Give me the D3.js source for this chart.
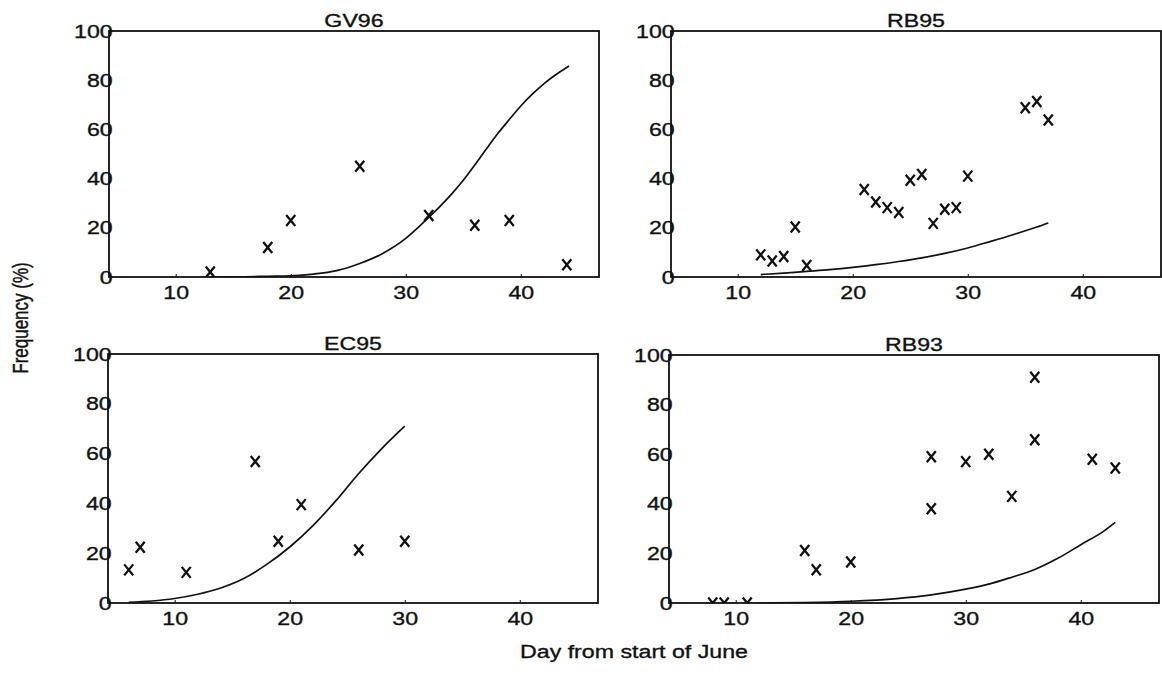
<!DOCTYPE html>
<html>
<head>
<meta charset="utf-8">
<script src="https://cdn.jsdelivr.net/npm/d3@7"></script>
<style>
  html, body { margin: 0; padding: 0; background: #fff; }
  svg { display: block; font-family: "Liberation Sans", Arial, sans-serif; }
</style>
</head>
<body>
<div id="chart"></div>
<script>
// observations (day, frequency %)
const gv96Days = [13, 18, 20, 26, 32, 36, 39, 44];
const gv96Freq = [2, 12, 23, 45, 25, 21, 23, 5];
const gv96CurveDays = [13, 16, 18, 20, 22, 24, 26, 28, 30, 31, 32, 33, 34, 35, 36, 37, 38, 39, 40, 41, 42, 43, 44.2];
const gv96CurveFreq = [0, 0.1, 0.3, 0.5, 1.2, 2.6, 5.5, 9.6, 15.7, 19.8, 24.2, 28.8, 33.8, 39.3, 45.5, 52, 58.3, 64, 69.5, 74.3, 78.5, 82.1, 85.8];

const rb95Days = [12, 13, 14, 15, 16, 21, 22, 23, 24, 25, 26, 27, 28, 29, 30, 35, 36, 37];
const rb95Freq = [9, 6.5, 8.3, 20.3, 4.7, 35.6, 30.5, 28.2, 26.2, 39.3, 41.7, 21.8, 27.5, 28.2, 41, 68.8, 71.3, 63.8];
const rb95CurveDays = [12, 14, 16, 18, 20, 22, 24, 26, 28, 30, 32, 34, 36, 37];
const rb95CurveFreq = [1, 1.6, 2.3, 3, 3.9, 5, 6.3, 7.8, 9.6, 11.8, 14.5, 17.3, 20.3, 22];

const ec95Days = [6, 7, 11, 17, 19, 21, 26, 30];
const ec95Freq = [13.3, 22.4, 12.3, 56.8, 24.8, 39.5, 21.3, 24.8];
const ec95CurveDays = [6, 8, 10, 12, 14, 16, 18, 20, 22, 24, 26, 28, 30];
const ec95CurveFreq = [0.3, 0.8, 1.8, 3.5, 6, 9.8, 15.5, 22.5, 31, 41, 52, 62, 71];

const rb93Days = [8, 9, 11, 16, 17, 20, 27, 27, 30, 32, 34, 36, 36, 41, 43];
const rb93Freq = [0, 0, 0, 21.2, 13.4, 16.5, 59, 38, 57, 60, 43, 91, 65.8, 58, 54.4];
const rb93CurveDays = [12, 16, 20, 24, 27, 30, 32, 34, 36, 38, 40, 42, 43];
const rb93CurveFreq = [0, 0.2, 0.7, 1.8, 3.3, 5.6, 7.6, 10.4, 13.5, 18, 23.5, 29, 32.5];

const xTicks = [10, 20, 30, 40];
const yTicks = [0, 20, 40, 60, 80, 100];

const panels = [
  { title: "GV96", days: gv96Days, freq: gv96Freq, cDays: gv96CurveDays, cFreq: gv96CurveFreq, left: 109, top: 31, bottom: 277 },
  { title: "RB95", days: rb95Days, freq: rb95Freq, cDays: rb95CurveDays, cFreq: rb95CurveFreq, left: 671, top: 31, bottom: 277 },
  { title: "EC95", days: ec95Days, freq: ec95Freq, cDays: ec95CurveDays, cFreq: ec95CurveFreq, left: 108, top: 354, bottom: 603 },
  { title: "RB93", days: rb93Days, freq: rb93Freq, cDays: rb93CurveDays, cFreq: rb93CurveFreq, left: 669, top: 355, bottom: 603 }
];

const W = 1162, H = 674;
const panelW = 490;
const sx = 1.22;      // the scan is stretched horizontally
const fs = 19;
const ink = "#111";

const svg = d3.select("#chart").append("svg")
  .attr("width", W).attr("height", H);

// scanned print looks a little heavy
const inkText = sel => sel.attr("fill", ink).attr("stroke", ink).attr("stroke-width", 0.35)
  .style("font-size", fs + "px");

panels.forEach((p, i) => {
  const x = d3.scaleLinear().domain([4.2, 46.8]).range([0, panelW]);
  const y = d3.scaleLinear().domain([0, 100]).range([p.bottom - p.top, 0]);
  const h = p.bottom - p.top;

  const g = svg.append("g").attr("transform", `translate(${p.left},${p.top})`);

  g.append("clipPath").attr("id", "clip" + i)
    .append("rect").attr("width", panelW).attr("height", h);

  // x axis
  g.append("g").attr("transform", `translate(0,${h})`)
    .call(d3.axisBottom(x).tickValues(xTicks).tickSize(-3).tickPadding(8.5))
    .call(a => a.select(".domain").remove())
    .call(a => a.selectAll("line").attr("stroke", ink).attr("stroke-width", 1))
    .call(a => a.selectAll("text").call(inkText).attr("transform", `scale(${sx},1)`));

  // y axis
  g.append("g")
    .call(d3.axisLeft(y).tickValues(yTicks).tickSize(0).tickPadding(-3))
    .call(a => a.select(".domain").remove())
    .call(a => a.selectAll("text").call(inkText).attr("transform", `scale(${sx},1)`));

  // frame
  g.append("rect").attr("width", panelW).attr("height", h)
    .attr("fill", "none").attr("stroke", ink).attr("stroke-width", 1.8);

  // title
  g.append("g").attr("transform", `translate(${panelW / 2},-4) scale(${sx},1)`)
    .append("text").attr("text-anchor", "middle").call(inkText).text(p.title);

  const plot = g.append("g").attr("clip-path", `url(#clip${i})`);

  // fitted curve
  const line = d3.line().x(d => x(d[0])).y(d => y(d[1])).curve(d3.curveMonotoneX);
  plot.append("path").datum(d3.zip(p.cDays, p.cFreq))
    .attr("fill", "none").attr("stroke", ink).attr("stroke-width", 1.7).attr("d", line);

  // x markers
  plot.selectAll(".mk").data(d3.zip(p.days, p.freq)).join("path")
    .attr("class", "mk")
    .attr("d", d => {
      const cx = x(d[0]), cy = y(d[1]);
      return `M${cx - 4.5},${cy - 5.5}L${cx + 4.5},${cy + 5.5}M${cx + 4.5},${cy - 5.5}L${cx - 4.5},${cy + 5.5}`;
    })
    .attr("stroke", ink).attr("stroke-width", 2.3).attr("fill", "none");
});

// shared axis titles
svg.append("g").attr("transform", `translate(634,658) scale(${sx},1)`)
  .append("text").attr("text-anchor", "middle").call(inkText).text("Day from start of June");

svg.append("g").attr("transform", `translate(28,318) scale(1.3,1) rotate(-90)`)
  .append("text").attr("text-anchor", "middle").call(inkText)
  .style("font-size", "17px").text("Frequency (%)");
</script>
</body>
</html>
